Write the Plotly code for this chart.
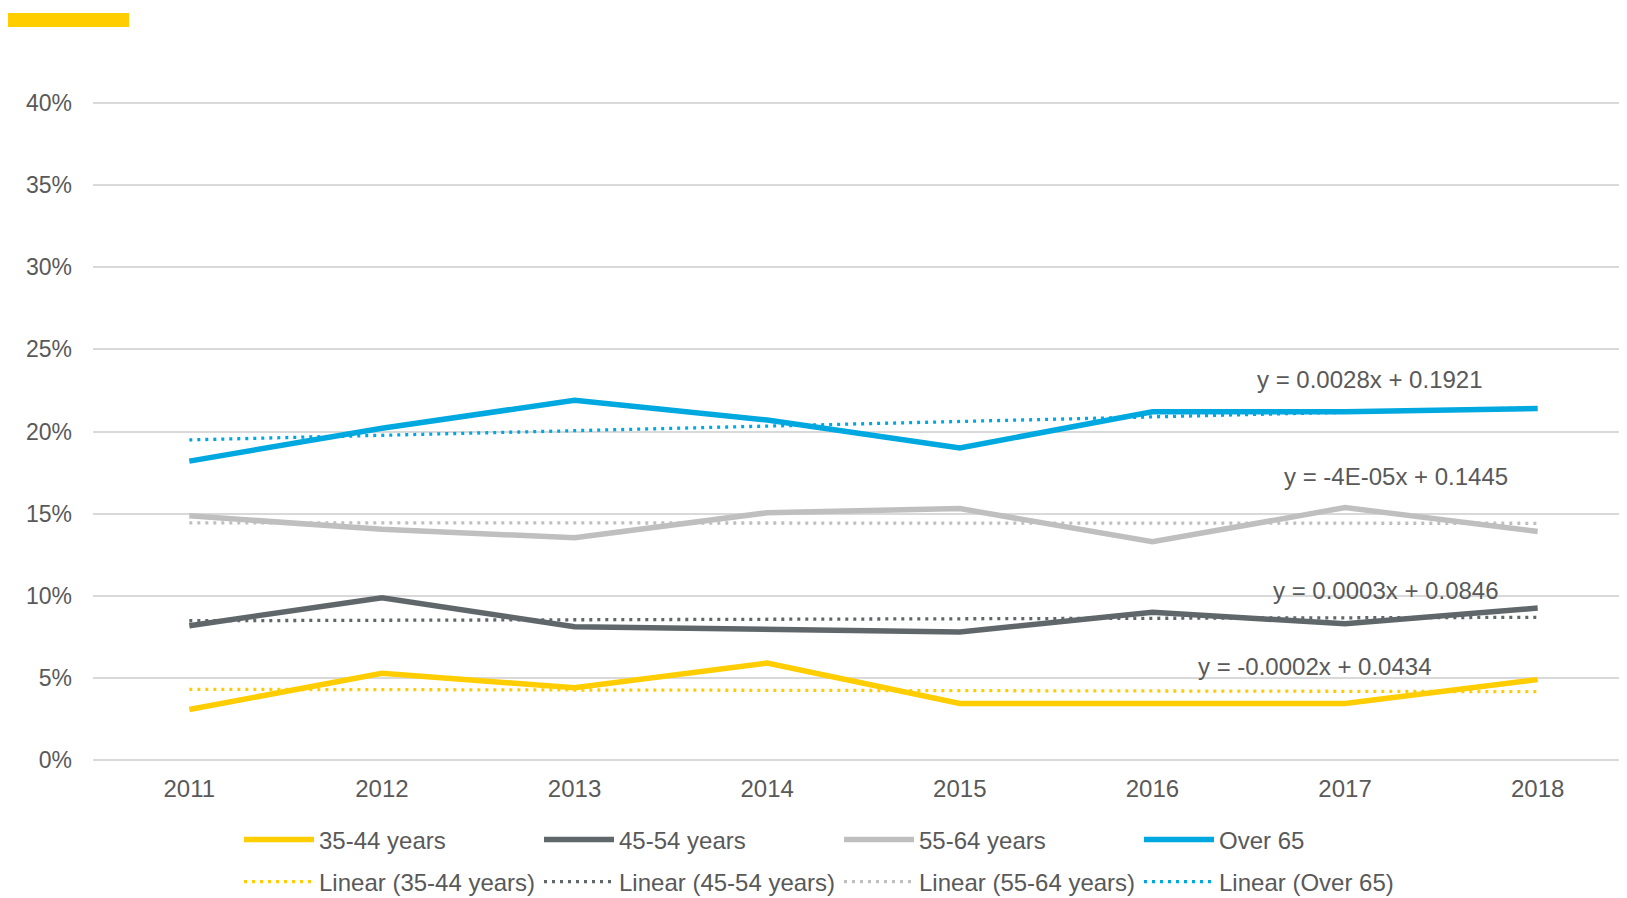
import plotly.graph_objects as go

# ---- data ----
years = [2011, 2012, 2013, 2014, 2015, 2016, 2017, 2018]
series_names = ["35-44 years", "45-54 years", "55-64 years", "Over 65"]
v_35_44 = [0.0309, 0.0529, 0.0441, 0.0592, 0.0346, 0.0346, 0.0346, 0.0491]
v_45_54 = [0.0819, 0.0989, 0.0813, 0.0800, 0.0781, 0.0900, 0.0831, 0.0926]
v_55_64 = [0.1487, 0.1405, 0.1354, 0.1506, 0.1531, 0.1329, 0.1537, 0.1392]
v_over65 = [0.1820, 0.2020, 0.2190, 0.2070, 0.1900, 0.2120, 0.2120, 0.2140]
trend_slopes = [-0.0002, 0.0003, -0.00004, 0.0028]
trend_intercepts = [0.0434, 0.0846, 0.1445, 0.1921]
trend_labels = ["y = -0.0002x + 0.0434", "y = 0.0003x + 0.0846",
                "y = -4E-05x + 0.1445", "y = 0.0028x + 0.1921"]
label_x = [2016.844, 2017.213, 2017.266, 2017.127]
label_y = [0.0568, 0.1035, 0.1729, 0.2316]
y_ticks = [0, 0.05, 0.10, 0.15, 0.20, 0.25, 0.30, 0.35, 0.40]
y_ticktext = ["0%", "5%", "10%", "15%", "20%", "25%", "30%", "35%", "40%"]

colors = ["#FFCD00", "#60676A", "#BFBFBF", "#00A8E0"]
values = [v_35_44, v_45_54, v_55_64, v_over65]

W, H = 1627, 898
OFF = 8  # page body margin
ml, mr, mt = 93 - OFF, 1, 101 - OFF
mb = H - (762 - OFF)
FONT = "Liberation Sans, Arial, sans-serif"
TXT = "#595959"

fig = go.Figure()
for name, vals, col in zip(series_names, values, colors):
    fig.add_trace(go.Scatter(x=years, y=vals, mode="lines", name=name,
                             line=dict(color=col, width=5.5), legend="legend"))
for name, a, b, col in zip(series_names, trend_slopes, trend_intercepts, colors):
    idx = list(range(1, len(years) + 1))
    ty = [a * i + b for i in idx]
    fig.add_trace(go.Scatter(x=years, y=ty, mode="lines", name=f"Linear ({name})",
                             line=dict(color=col, width=3.3, dash="3px,5px"), legend="legend2"))

for txt, xx, yy in zip(trend_labels, label_x, label_y):
    fig.add_annotation(x=xx, y=yy, text=txt, showarrow=False,
                       font=dict(family=FONT, size=24, color=TXT),
                       xanchor="center", yanchor="middle")

pw = W - ml - mr
ph = H - mt - mb
def px2paper_x(p):
    return (p - OFF - ml) / pw
def px2paper_y(p):
    return (H - mb - (p - OFF)) / ph

fig.add_shape(type="rect", xref="paper", yref="paper",
              x0=px2paper_x(7), x1=px2paper_x(129),
              y0=px2paper_y(27), y1=px2paper_y(13),
              fillcolor="#FFCD00", line=dict(width=0))

legend_common = dict(orientation="h", xref="container", yref="container",
                     xanchor="left", yanchor="middle",
                     font=dict(family=FONT, size=24, color=TXT),
                     itemwidth=70, entrywidth=215, entrywidthmode="pixels",
                     bgcolor="rgba(0,0,0,0)", tracegroupgap=0)

fig.update_layout(
    width=W, height=H,
    margin=dict(l=ml, r=mr, t=mt, b=mb, autoexpand=False),
    paper_bgcolor="white", plot_bgcolor="white",
    font=dict(family=FONT, size=23, color=TXT),
    showlegend=True,
    legend=dict(x=(244 - OFF - 5) / W, y=1 - (840 - OFF) / H, **legend_common),
    legend2=dict(x=(244 - OFF - 5) / W, y=1 - (882 - OFF) / H, **legend_common),
    xaxis=dict(range=[2010.5, 2018.5], tickvals=years, ticktext=[str(y) for y in years],
               showgrid=False, zeroline=False, showline=False, ticks="",
               ticklabelstandoff=10, tickfont=dict(family=FONT, size=24, color=TXT)),
    yaxis=dict(range=[-0.001, 0.401], tickvals=y_ticks, ticktext=y_ticktext,
               showgrid=True, gridcolor="#D9D9D9", gridwidth=2,
               zeroline=False, showline=False, ticks="",
               ticklabelstandoff=20, tickfont=dict(family=FONT, size=23, color=TXT)),
)

fig.write_html("out.html")
